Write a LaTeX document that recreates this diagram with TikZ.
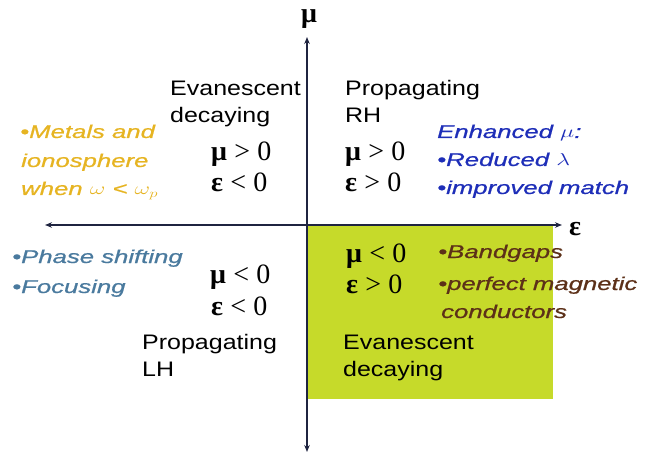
\documentclass[tikz,border=0pt]{standalone}
\usepackage{fontspec}
\usepackage{graphicx}
\setmainfont{Liberation Sans}
\newfontfamily\serifgr{Liberation Serif}
\newfontfamily\notefont[FakeBold=0.7]{Liberation Sans}
\usetikzlibrary{arrows.meta}

\definecolor{axisc}{HTML}{1F2440}
\definecolor{bandfill}{HTML}{C6DA2A}
\definecolor{metalc}{HTML}{E6B422}
\definecolor{enhc}{HTML}{1E2EB8}
\definecolor{phasec}{HTML}{4A7A9E}
\definecolor{gapc}{HTML}{5C3018}

\newcommand\wide[2]{\scalebox{#1}[1]{#2}}
\newcommand\lbltext[1]{\wide{1.19}{#1}}
\newcommand\notetext[1]{\wide{1.39}{#1}}

\tikzset{
  lbl/.style={anchor=base west, inner sep=0pt, font=\fontsize{21}{25}\selectfont},
  note/.style={anchor=base west, inner sep=0pt, font=\fontsize{18.5}{22}\selectfont\notefont\itshape},
  rel/.style={anchor=base west, inner sep=0pt, font=\fontsize{28}{32}\selectfont\serifgr},
  axislbl/.style={inner sep=0pt, font=\fontsize{28}{32}\selectfont\serifgr\bfseries},
  axisline/.style={axisc, line width=1.1pt, {Stealth[length=7pt,width=5.5pt]}-{Stealth[length=7pt,width=5.5pt]}},
}

\begin{document}
\begin{tikzpicture}[x=1pt,y=-1pt]
\useasboundingbox (0,0) rectangle (647,454);

% shaded quadrant (mu < 0, epsilon > 0)
\fill[bandfill] (307,225) rectangle (553,399);

% axes
\coordinate (ytop) at (307,37);
\coordinate (ybot) at (307,452);
\coordinate (xleft) at (45,225);
\coordinate (xright) at (562,225);
\draw[axisline] (ybot) -- (ytop);
\draw[axisline] (xleft) -- (xright);
\node[axislbl] (mulbl) at (309,19) {μ};
\node[axislbl] (epslbl) at (575,229) {ε};

% upper-left quadrant
\node[lbl] (tlA) at (170,96) {\lbltext{Evanescent}};
\node[lbl] (tlB) at (170,123) {\lbltext{decaying}};
\node[rel] (tlmu) at (211,161) {\textbf{μ}\hspace{0.26em}>\hspace{0.26em}0};
\node[rel] (tleps) at (211,192) {\textbf{ε}\hspace{0.26em}<\hspace{0.26em}0};

% upper-right quadrant
\node[lbl] (trA) at (345,96) {\lbltext{Propagating}};
\node[lbl] (trB) at (345,123) {\lbltext{RH}};
\node[rel] (trmu) at (345,161) {\textbf{μ}\hspace{0.26em}>\hspace{0.26em}0};
\node[rel] (treps) at (345,192) {\textbf{ε}\hspace{0.26em}>\hspace{0.26em}0};

% lower-left quadrant
\node[rel] (blmu) at (210,283) {\textbf{μ}\hspace{0.26em}<\hspace{0.26em}0};
\node[rel] (bleps) at (211,315) {\textbf{ε}\hspace{0.26em}<\hspace{0.26em}0};
\node[lbl] (blA) at (142,349) {\lbltext{Propagating}};
\node[lbl] (blB) at (142,376) {\lbltext{LH}};

% lower-right quadrant
\node[rel] (brmu) at (346,262) {\textbf{μ}\hspace{0.26em}<\hspace{0.26em}0};
\node[rel] (breps) at (346,293) {\textbf{ε}\hspace{0.26em}>\hspace{0.26em}0};
\node[lbl] (brA) at (343,349) {\lbltext{Evanescent}};
\node[lbl] (brB) at (343,376) {\lbltext{decaying}};

% applications
\node[note, text=metalc] (metA) at (20,138) {\notetext{•Metals and}};
\node[note, text=metalc] (metB) at (21,167) {\notetext{ionosphere}};
\node[note, text=metalc] (metC) at (21,195) {\notetext{when $\omega$ < $\omega_p$}};

\node[note, text=enhc] (enhA) at (437,138) {\notetext{Enhanced $\mu$:}};
\node[note, text=enhc] (enhB) at (437,166) {\notetext{•Reduced $\lambda$}};
\node[note, text=enhc] (enhC) at (437,194) {\notetext{•improved match}};

\node[note, text=phasec] (phA) at (12,263) {\notetext{•Phase shifting}};
\node[note, text=phasec] (phB) at (12,293) {\notetext{•Focusing}};

\node[note, text=gapc] (gapA) at (438,258) {\notetext{•Bandgaps}};
\node[note, text=gapc] (gapB) at (438,290) {\notetext{•perfect magnetic}};
\node[note, text=gapc] (gapC) at (441,318) {\notetext{conductors}};
\end{tikzpicture}
\end{document}
